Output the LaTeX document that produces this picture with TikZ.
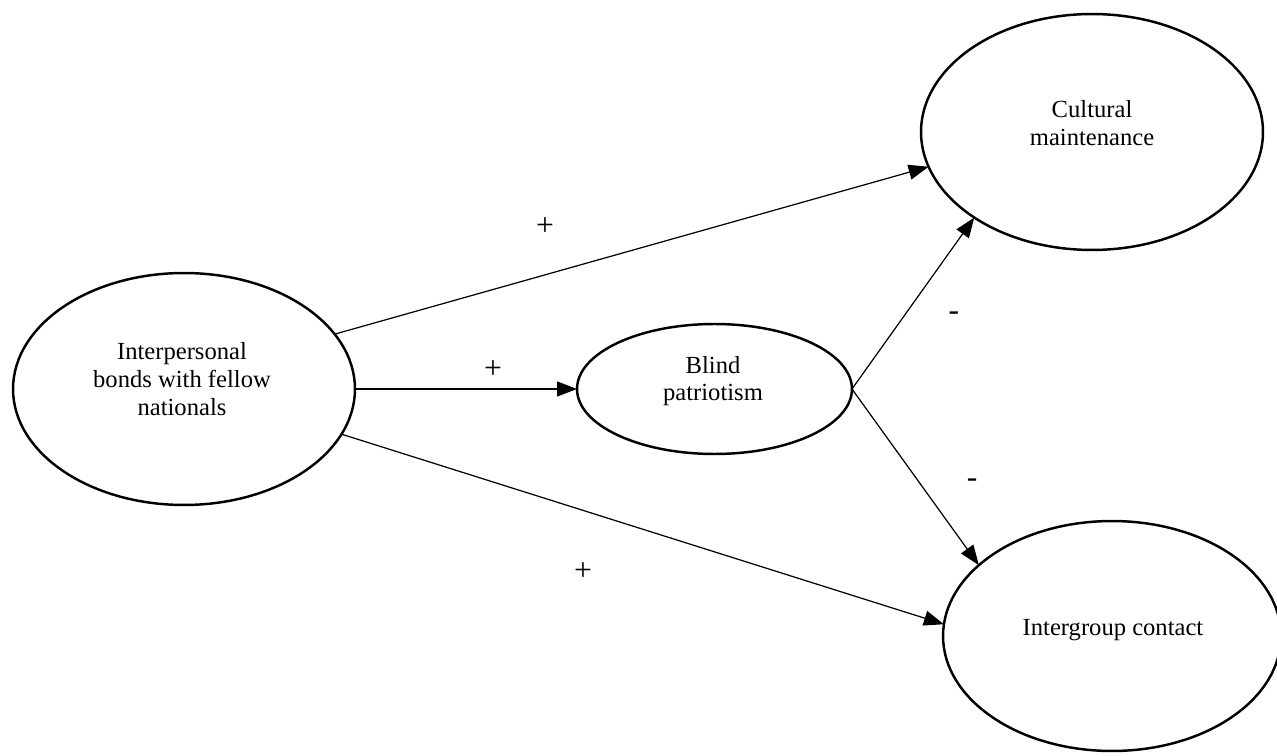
\documentclass[tikz,border=0pt]{standalone}
\usepackage{fontspec}
\setmainfont{Liberation Serif}
\usetikzlibrary{arrows.meta,shapes.geometric}

\begin{document}
\begin{tikzpicture}[x=0.02cm,y=-0.02cm]
  \tikzstyle{every node}=[font=\fontsize{14}{15.8}\selectfont]
  \tikzstyle{var}=[draw,ellipse,line width=1.4pt,inner sep=0pt,outer sep=0pt]
  \tikzstyle{txt}=[align=center,inner sep=0pt]
  \tikzstyle{sign}=[font=\fontsize{18}{20}\selectfont]
  \tikzstyle{link}=[line width=0.7pt,-{Triangle[length=0.4cm,width=0.3cm]}]
  \useasboundingbox (0,0) rectangle (1277,756);
  % latent variables
  \node[var,minimum width=6.84cm,minimum height=4.64cm] (bonds) at (184,389) {};
  \node[var,minimum width=5.5cm,minimum height=2.6cm] (blind) at (714.5,389) {};
  \node[var,minimum width=6.84cm,minimum height=4.72cm] (culture) at (1092,132) {};
  \node[var,minimum width=6.76cm,minimum height=4.6cm] (contact) at (1112,636) {};
  \node[txt] (bondstxt) at (182,379) {Interpersonal\\bonds with fellow\\nationals};
  \node[txt] (blindtxt) at (713,381) {Blind\\patriotism};
  \node[txt] (culturetxt) at (1092,123) {Cultural\\maintenance};
  \node[txt] (contacttxt) at (1113,630) {Intergroup contact};
  % paths
  \draw[link] (bonds.20) -- (culture.192.4);
  \draw[link] (bonds.-16) -- (contact.176.4);
  \draw[link] (bonds.east) -- (blind.west);
  \draw[link] (blind.east) -- (culture.216.5);
  \draw[link] (blind.east) -- (contact.152.4);
  % signs
  \node[sign] (p1) at (545,227) {+};
  \node[sign] (p2) at (493,370) {+};
  \node[sign] (p3) at (583,572) {+};
  \node[sign] (m1) at (954,316) {-};
  \node[sign] (m2) at (972,483) {-};
\end{tikzpicture}
\end{document}
